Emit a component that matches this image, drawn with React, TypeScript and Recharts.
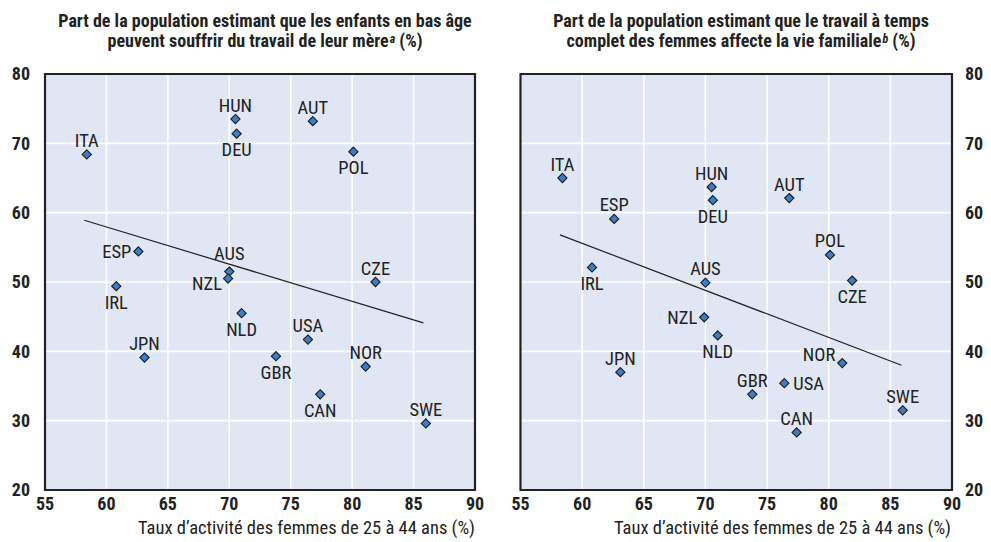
import React from 'react';
import { ScatterChart, Scatter, XAxis, YAxis, CartesianGrid, ReferenceLine, ReferenceArea } from 'recharts';

// ---- data ----
const countries = ['AUS', 'AUT', 'CAN', 'CZE', 'DEU', 'ESP', 'GBR', 'HUN', 'IRL', 'ITA', 'JPN', 'NLD', 'NOR', 'NZL', 'POL', 'SWE', 'USA'];
const femaleActivityRate = [70.0, 76.8, 77.4, 81.9, 70.6, 62.6, 73.8, 70.5, 60.8, 58.4, 63.1, 71.0, 81.1, 69.9, 80.1, 86.0, 76.4];
const childrenSuffer = [51.5, 73.2, 33.8, 50.0, 71.4, 54.4, 39.3, 73.5, 49.4, 68.4, 39.1, 45.5, 37.8, 50.5, 68.8, 29.6, 41.7];
const familyLifeAffected = [49.9, 62.1, 28.3, 50.2, 61.8, 59.1, 33.8, 63.7, 52.1, 65.0, 37.0, 42.3, 38.3, 44.9, 53.9, 31.5, 35.4];
const trendLeft = [{ x: 58.2, y: 58.9 }, { x: 85.8, y: 44.1 }];
const trendRight = [{ x: 58.2, y: 56.8 }, { x: 85.9, y: 38.0 }];
const xTicks = [55, 60, 65, 70, 75, 80, 85, 90];
const yTicks = [20, 30, 40, 50, 60, 70, 80];
const titleLeftLines = ['Part de la population estimant que les enfants en bas âge', 'peuvent souffrir du travail de leur mère'];
const titleRightLines = ['Part de la population estimant que le travail à temps', 'complet des femmes affecte la vie familiale'];
const xTitle = 'Taux d’activité des femmes de 25 à 44 ans (%)';

// ---- styles ----
const FONT = "'Liberation Sans Narrow', 'Arial Narrow', 'Roboto Condensed', Roboto, sans-serif";
const BG = '#e0e6f4';
const MARK = '#3d7dc4';
const INK = '#222222';

type Place = 'above' | 'below' | 'left' | 'right' | 'nzl' | 'nor' | 'aus';
const placeLeft: Record<string, Place> = {
  ITA: 'above', HUN: 'above', DEU: 'below', AUT: 'above', POL: 'below', ESP: 'left', AUS: 'aus', NZL: 'nzl',
  CZE: 'above', IRL: 'below', NLD: 'below', USA: 'above', JPN: 'above', GBR: 'below', NOR: 'above', CAN: 'below', SWE: 'above',
};
const placeRight: Record<string, Place> = {
  ITA: 'above', HUN: 'above', DEU: 'below', AUT: 'above', ESP: 'above', POL: 'above', IRL: 'below', AUS: 'above', CZE: 'below',
  NZL: 'left', NLD: 'below', NOR: 'nor', JPN: 'above', USA: 'right', GBR: 'above', SWE: 'above', CAN: 'above',
};

const leftData = countries.map((c, i) => ({ code: c, x: femaleActivityRate[i], y: childrenSuffer[i] }));
const rightData = countries.map((c, i) => ({ code: c, x: femaleActivityRate[i], y: familyLifeAffected[i] }));

function makeShape(places: Record<string, Place>) {
  return (props: any) => {
    const { cx, cy, payload } = props;
    const r = 4.6;
    const p = places[payload.code] || 'above';
    let dx = 0, dy = -7.5, anchor: 'middle' | 'start' | 'end' = 'middle';
    if (p === 'below') dy = 22.5;
    if (p === 'aus') dy = -12;
    if (p === 'left') { dx = -7; dy = 6.5; anchor = 'end'; }
    if (p === 'nzl') { dx = -6; dy = 11; anchor = 'end'; }
    if (p === 'right') { dx = 9; dy = 6.5; anchor = 'start'; }
    if (p === 'nor') { dx = -7; dy = -2; anchor = 'end'; }
    return (
      <g>
        <polygon
          points={`${cx},${cy - r} ${cx + r},${cy} ${cx},${cy + r} ${cx - r},${cy}`}
          fill={MARK}
          stroke="#1a1a1a"
          strokeWidth={1.1}
        />
        <text x={cx + dx} y={cy + dy} textAnchor={anchor} fontFamily={FONT} fontSize={18.5} fill={INK}>
          {payload.code}
        </text>
      </g>
    );
  };
}

const tickStyle = { fontFamily: FONT, fontSize: 18, fontWeight: 700, fill: INK };

function Panel({ data, trend, places, side }: any) {
  const isLeft = side === 'left';
  return (
    <ScatterChart
      width={isLeft ? 495 : 496}
      height={542}
      margin={isLeft ? { top: 74, right: 20, bottom: 22, left: 0 } : { top: 74, right: 0, bottom: 22, left: 25.5 }}
    >
      <CartesianGrid fill={BG} stroke="#ffffff" strokeWidth={1.6} />
      <XAxis
        type="number"
        dataKey="x"
        domain={[55, 90]}
        ticks={xTicks}
        interval={0}
        axisLine={false}
        tickLine={false}
        tickSize={0}
        tickMargin={7}
        height={30}
        tick={tickStyle}
      />
      <YAxis
        type="number"
        dataKey="y"
        domain={[20, 80]}
        ticks={yTicks}
        interval={0}
        orientation={isLeft ? 'left' : 'right'}
        axisLine={false}
        tickLine={false}
        tickSize={0}
        tickMargin={isLeft ? 15 : 13}
        width={isLeft ? 45 : 39}
        tick={tickStyle}
      />
      <ReferenceArea x1={55} x2={90} y1={20} y2={80} fill="none" stroke={INK} strokeWidth={2.2} ifOverflow="visible" />
      <ReferenceLine segment={trend} stroke={INK} strokeWidth={1.2} ifOverflow="visible" />
      <Scatter data={data} isAnimationActive={false} shape={makeShape(places)} />
    </ScatterChart>
  );
}

const titleStyle: React.CSSProperties = {
  position: 'absolute',
  fontFamily: FONT,
  fontSize: 18,
  fontWeight: 700,
  lineHeight: '20px',
  color: INK,
  textAlign: 'center',
  whiteSpace: 'nowrap',
};
const supStyle: React.CSSProperties = {
  fontStyle: 'italic',
  fontSize: 12,
  lineHeight: '12px',
  position: 'relative',
  top: -4,
  marginLeft: 1,
};
const xTitleStyle: React.CSSProperties = {
  position: 'absolute',
  top: 518,
  fontFamily: FONT,
  fontSize: 18.5,
  lineHeight: '20px',
  color: INK,
  textAlign: 'right',
  whiteSpace: 'nowrap',
};

function Title({ lines, note, left, width }: any) {
  return (
    <>
      <div style={{ ...titleStyle, top: 11, left, width }}>{lines[0]}</div>
      <div style={{ ...titleStyle, top: 31, left, width }}>
        {lines[1]}
        <span style={supStyle}>{note}</span> (%)
      </div>
    </>
  );
}

export default function App() {
  return (
    <div style={{ position: 'absolute', left: 0, top: 0, width: 991, height: 542, background: '#fff', overflow: 'hidden' }}>
      <div style={{ position: 'absolute', left: 0, top: 0 }}>
        <Panel data={leftData} trend={trendLeft} places={placeLeft} side="left" />
      </div>
      <div style={{ position: 'absolute', left: 495, top: 0 }}>
        <Panel data={rightData} trend={trendRight} places={placeRight} side="right" />
      </div>
      <Title lines={titleLeftLines} note="a" left={35} width={460} />
      <Title lines={titleRightLines} note="b" left={531} width={420} />
      <div style={{ ...xTitleStyle, right: 991 - 475 }}>{xTitle}</div>
      <div style={{ ...xTitleStyle, right: 991 - 951 }}>{xTitle}</div>
    </div>
  );
}
